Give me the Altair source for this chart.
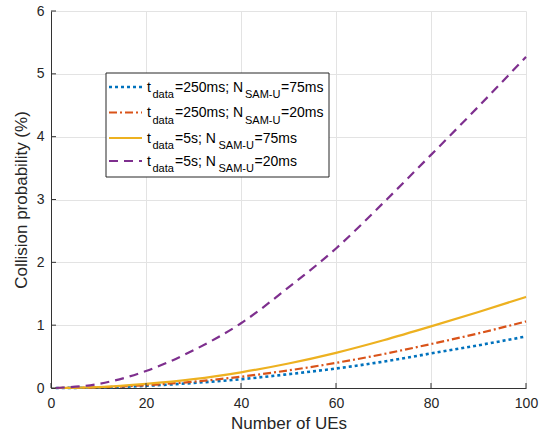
import altair as alt
import pandas as pd

# ---- data ----
n_ues = [1, 10, 20, 30, 40, 50, 60, 70, 80, 90, 100]
blue_250_75 = [0, 0.008, 0.035, 0.08, 0.14, 0.22, 0.31, 0.42, 0.55, 0.68, 0.82]
orange_250_20 = [0, 0.010, 0.045, 0.10, 0.18, 0.28, 0.40, 0.54, 0.70, 0.87, 1.06]
yellow_5s_75 = [0, 0.015, 0.065, 0.14, 0.25, 0.39, 0.56, 0.76, 0.98, 1.21, 1.45]
purple_5s_20 = [0, 0.065, 0.27, 0.60, 1.03, 1.60, 2.22, 2.95, 3.71, 4.48, 5.27]

x_ticks = [0, 20, 40, 60, 80, 100]
y_ticks = [0, 1, 2, 3, 4, 5, 6]

series_names = ["s1", "s2", "s3", "s4"]
series_values = [blue_250_75, orange_250_20, yellow_5s_75, purple_5s_20]
colors = ["#0072BD", "#D95319", "#EDB120", "#7E2F8E"]
dashes = [[3, 3], [8, 3, 2, 3], [1, 0], [9, 6]]
widths = [2.6, 2.2, 2.2, 2.2]

# legend text pieces (main part, subscript)
leg_t_val = ["=250ms; N", "=250ms; N", "=5s; N", "=5s; N"]
leg_n_val = ["=75ms", "=20ms", "=75ms", "=20ms"]

W, H = 475, 377
FONT = "Liberation Sans"
TXT = "#262626"

xs = alt.Scale(domain=[0, 100], nice=False)
ys = alt.Scale(domain=[0, 6], nice=False)

layers = []

# data lines
for name, vals, col, dash, sw in zip(series_names, series_values, colors, dashes, widths):
    df = pd.DataFrame({"x": n_ues, "y": vals})
    kw = dict(color=col, strokeWidth=sw, interpolate="monotone")
    if dash != [1, 0]:
        kw["strokeDash"] = dash
    layers.append(
        alt.Chart(df).mark_line(**kw).encode(
            x=alt.X("x:Q", scale=xs,
                    axis=alt.Axis(values=x_ticks, title="Number of UEs", grid=True,
                                  ticks=False, tickSize=0, labelPadding=8,
                                  labelFlush=False, format="d",
                                  titlePadding=5)),
            y=alt.Y("y:Q", scale=ys,
                    axis=alt.Axis(values=y_ticks, title="Collision probability (%)",
                                  grid=True, ticks=False, tickSize=0, format="d",
                                  labelFlush=False,
                                  labelPadding=7, titlePadding=6)),
        )
    )

# inward ticks
xt = pd.DataFrame({"v": x_ticks})
layers.append(alt.Chart(xt).mark_rule(color="#333333", strokeWidth=1).encode(
    x=alt.X("v:Q", scale=xs), y=alt.value(H), y2=alt.value(H - 5)))
yt = pd.DataFrame({"v": y_ticks})
layers.append(alt.Chart(yt).mark_rule(color="#333333", strokeWidth=1).encode(
    y=alt.Y("v:Q", scale=ys), x=alt.value(0), x2=alt.value(5)))

# legend (pixel coordinates relative to plot area origin)
ox, oy = 51, 11
box = pd.DataFrame({"x1": [106 - ox], "x2": [329 - ox], "y1": [73 - oy], "y2": [177 - oy]})
layers.append(alt.Chart(box).mark_rect(fill="white", stroke="#262626", strokeWidth=1).encode(
    x=alt.X("x1:Q", scale=None), x2="x2:Q", y=alt.Y("y1:Q", scale=None), y2="y2:Q"))

row_line_y = [87, 112.5, 138, 161]
for i in range(4):
    ly = row_line_y[i] - oy
    seg = pd.DataFrame({"a": [109 - ox], "b": [142 - ox], "y": [ly]})
    kw = dict(color=colors[i], strokeWidth=widths[i])
    if dashes[i] != [1, 0]:
        kw["strokeDash"] = dashes[i]
    layers.append(alt.Chart(seg).mark_rule(**kw).encode(
        x=alt.X("a:Q", scale=None), x2="b:Q", y=alt.Y("y:Q", scale=None)))

    base = ly + 4.5
    sub = base + 6.5
    if i < 2:
        px = [147, 152.5, 175, 245, 281]
    else:
        px = [147, 152.5, 175, 218.5, 254.5]
    pieces = pd.DataFrame({
        "x": [p - ox for p in px],
        "y": [base, sub, base, sub, base],
        "t": ["t", "data", leg_t_val[i], "SAM-U", leg_n_val[i]],
        "s": [14, 11, 14, 11, 14],
    })
    layers.append(alt.Chart(pieces).mark_text(
        align="left", baseline="alphabetic", font=FONT, color="#000000").encode(
        x=alt.X("x:Q", scale=None), y=alt.Y("y:Q", scale=None),
        text="t:N", size=alt.Size("s:Q", scale=None)))

chart = alt.layer(*layers).properties(
    width=W, height=H,
    autosize=alt.AutoSizeParams(type="none"),
    padding={"left": 51, "top": 11, "right": 19, "bottom": 45},
).configure_view(stroke=None).configure_axis(
    domainColor="#333333", domainWidth=1,
    gridColor="#e3e3e3", gridWidth=1,
    labelFont=FONT, labelFontSize=14, labelColor=TXT,
    titleFont=FONT, titleFontSize=17, titleColor=TXT, titleFontWeight="normal",
)

chart.save("out.html", embed_options={"renderer": "svg", "actions": False})
